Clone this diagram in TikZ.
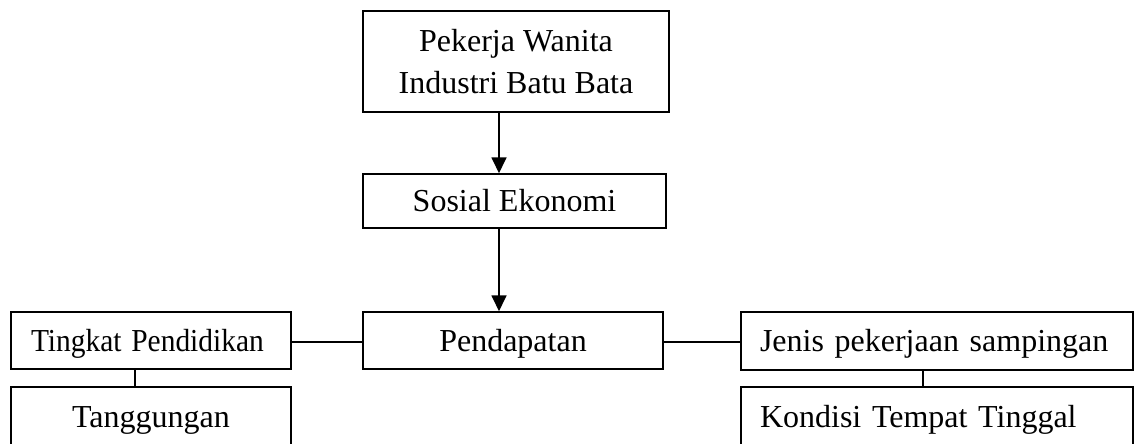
\documentclass[tikz,border=0pt]{standalone}
\usepackage{fontspec}
\setmainfont{Liberation Serif}
\usepackage{graphicx}
\usetikzlibrary{arrows.meta}
\begin{document}
\begin{tikzpicture}[x=1pt,y=-1pt,
  base/.style={draw,line width=1.5pt,inner sep=0pt,font=\fontsize{32}{41.6}\selectfont},
  box/.style={base,text height=21.2pt,text depth=0pt},
  link/.style={line width=1.5pt},
  arr/.style={line width=1.8pt,-{Triangle[width=15pt,length=16pt]}}]
\useasboundingbox (0,0) rectangle (1136,444);
\clip (0,0) rectangle (1136,444);
\node[base,align=center,minimum width=306pt,minimum height=101pt] (top) at (516,61.5) {Pekerja Wanita\\Industri Batu Bata};
\node[box,minimum width=303pt,minimum height=54pt] (sos) at (514.5,201) {Sosial Ekonomi};
\node[box,minimum width=300pt,minimum height=57pt] (pen) at (513,340.5) {Pendapatan};
\node[box,text width=240pt,align=left,inner xsep=20pt,minimum height=57pt] (ting) at (151,340.5) {\scalebox{0.92}[1]{Tingkat Pendidikan}};
\node[box,minimum width=280pt,minimum height=60pt] (tang) at (151,417) {Tanggungan};
\node[box,text width=354pt,align=left,inner xsep=19pt,minimum height=58pt] (jen) at (937,341) {Jenis pekerjaan sampingan};
\node[box,text width=354pt,align=left,inner xsep=19pt,minimum height=60pt] (kon) at (937,417) {Kondisi Tempat Tinggal};
\coordinate (ax) at (499,0);
\coordinate (hy) at (0,342);
\coordinate (lv) at (135,0);
\coordinate (rv) at (923,0);
\draw[arr] (top.south -| ax) -- (sos.north -| ax);
\draw[arr] (sos.south -| ax) -- (pen.north -| ax);
\draw[link] (ting.east |- hy) -- (pen.west |- hy);
\draw[link] (pen.east |- hy) -- (jen.west |- hy);
\draw[link] (ting.south -| lv) -- (tang.north -| lv);
\draw[link] (jen.south -| rv) -- (kon.north -| rv);
\end{tikzpicture}
\end{document}
